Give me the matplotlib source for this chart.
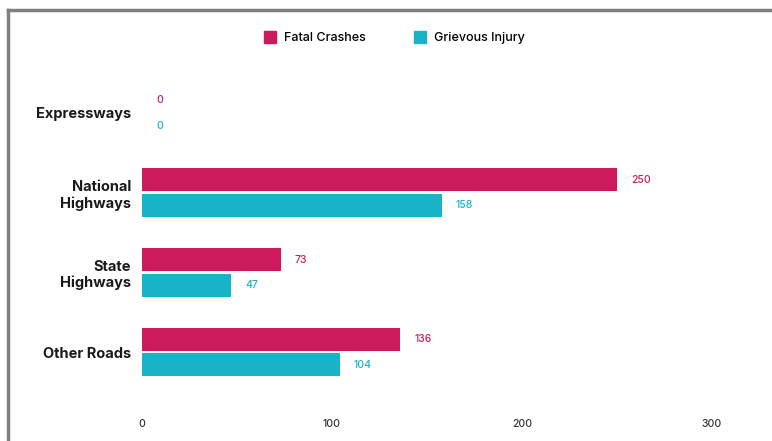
import matplotlib.pyplot as plt
import numpy as np
from matplotlib.lines import Line2D

plt.rcParams['font.family'] = ['Inter', 'DejaVu Sans']

categories = ['Expressways', 'National\nHighways', 'State\nHighways', 'Other Roads']
fatal = [0, 250, 73, 136]
grievous = [0, 158, 47, 104]
series_names = ['Fatal Crashes', 'Grievous Injury']
xticks = [0, 100, 200, 300]

col_fatal = '#CC1A5C'
col_griev = '#17B4C7'

fig = plt.figure(figsize=(7.72, 4.41), dpi=100)
ax = fig.add_axes([0.184, 1 - 405 / 441, 0.775, (405 - 73) / 441])

y = np.arange(len(categories))
h = 0.29
ax.barh(y - 0.16, fatal, height=h, color=col_fatal)
ax.barh(y + 0.16, grievous, height=h, color=col_griev)

for yi, v in zip(y, fatal):
    ax.annotate(str(v), (v, yi - 0.16), xytext=(10, 0), textcoords='offset points',
                ha='left', va='center', fontsize=7.5, fontweight='medium', color=col_fatal)
for yi, v in zip(y, grievous):
    ax.annotate(str(v), (v, yi + 0.16), xytext=(10, 0), textcoords='offset points',
                ha='left', va='center', fontsize=7.5, fontweight='medium', color=col_griev)

ax.set_xlim(0, 315)
ax.set_ylim(3.6625, -0.5)
ax.set_yticks(y)
ax.set_yticklabels(categories, fontsize=10.5, fontweight='bold', color='#1a1a1a')
ax.set_xticks(xticks)
ax.set_xticklabels([str(t) for t in xticks], fontsize=7.5, fontweight='medium', color='#333333')
ax.tick_params(length=0, axis='y', pad=8)
ax.tick_params(length=0, axis='x', pad=10)
for s in ax.spines.values():
    s.set_visible(False)

handles = [Line2D([], [], marker='s', linestyle='', markersize=8.5, color=col_fatal),
           Line2D([], [], marker='s', linestyle='', markersize=8.5, color=col_griev)]
fig.legend(handles, series_names, loc='center', bbox_to_anchor=(0.51, 1 - 38 / 441),
           ncol=2, frameon=False, prop={'size': 9, 'weight': 'medium'},
           handletextpad=0.5, columnspacing=3.8, handlelength=1.2)

# outer frame (top and left edges visible in the crop)
fig.add_artist(Line2D([8 / 772, 8 / 772], [0, 1 - 10 / 441], color='#808080', lw=2.5))
fig.add_artist(Line2D([8 / 772, 1], [1 - 10 / 441, 1 - 10 / 441], color='#808080', lw=2.5))

fig.savefig('out.png', dpi=100)
